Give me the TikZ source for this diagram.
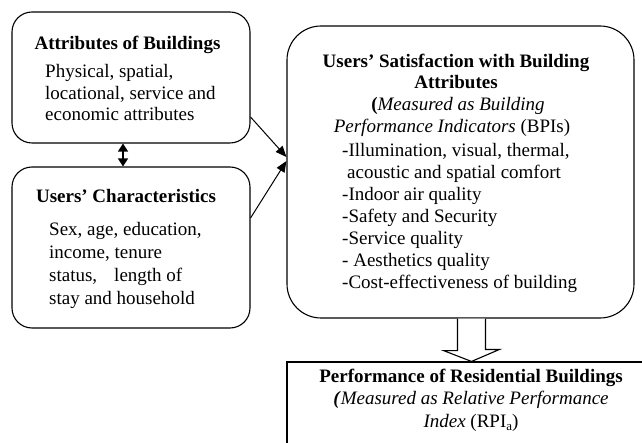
\documentclass[tikz,border=0pt]{standalone}
\usepackage{fontspec}
\setmainfont{Liberation Serif}
\usetikzlibrary{arrows.meta,calc}
\begin{document}
\begin{tikzpicture}[x=1pt,y=-1pt,
  box/.style={draw, line width=1.1pt, inner sep=0pt},
  rbox/.style={box, rounded corners=20pt},
  bigbox/.style={box, rounded corners=34pt},
  txt/.style={inner sep=0pt, font=\fontsize{19}{22}\selectfont},
  conn/.style={line width=1pt, -{Triangle[length=11pt,width=9pt]}},
  dconn/.style={line width=1.2pt, {Triangle[length=8pt,width=10pt]}-{Triangle[length=8pt,width=10pt]}},
  blockarrow/.style={draw, line width=1.1pt, line join=miter, fill=white}]
\useasboundingbox (0,0) rectangle (642,443);
\clip (0,0) rectangle (642,443);

% boxes
\node[rbox, minimum width=238pt, minimum height=131pt] (attr) at (131,77.5) {};
\node[rbox, minimum width=238pt, minimum height=161pt] (users) at (131,247.5) {};
\node[bigbox, minimum width=347pt, minimum height=292pt] (sat) at (460.5,172) {};
\node[box, minimum width=369pt, minimum height=108pt] (perf) at (471.5,416) {};

% texts: attributes
\node[txt, anchor=base] (attrT) at (127.5,50) {\textbf{Attributes of Buildings}};
\foreach \yy/\t [count=\i] in {78/{Physical, spatial,}, 100/{locational, service and}, 121/{economic attributes}}
  \node[txt, anchor=base west] (attrB\i) at (45,\yy) {\t};

% texts: users
\node[txt, anchor=base] (usersT) at (126,203) {\textbf{Users’ Characteristics}};
\foreach \yy/\t [count=\i] in {236/{Sex, age, education,}, 259/{income, tenure}, 282/{status,\hspace*{17pt}length of}, 305/{stay and household}}
  \node[txt, anchor=base west] (usersB\i) at (49,\yy) {\t};

% texts: satisfaction
\node[txt, anchor=base] (satT1) at (456,68) {\textbf{Users’ Satisfaction with Building}};
\node[txt, anchor=base] (satT2) at (456,89) {\textbf{Attributes}};
\node[txt, anchor=base] (satT3) at (458,111) {\textbf{(}\textit{Measured as Building}};
\node[txt, anchor=base] (satT4) at (452,133) {\textit{Performance Indicators} (BPIs)};
\foreach \yy/\xx/\t [count=\i] in {157/342/{-Illumination, visual, thermal,}, 179/347/{acoustic and spatial comfort}, 201/342/{-Indoor air quality}, 223/342/{-Safety and Security}, 245/342/{-Service quality}, 267/342/{- Aesthetics quality}, 289/342/{-Cost-effectiveness of building}}
  \node[txt, anchor=base west] (satL\i) at (\xx,\yy) {\t};

% texts: performance
\node[txt, anchor=base] (perfT1) at (471,382) {\textbf{Performance of Residential Buildings}};
\node[txt, anchor=base] (perfT2) at (471,404) {\textbf{\textit{(}}\textit{Measured as Relative Performance}};
\node[txt, anchor=base] (perfT3) at (471,427) {\textit{Index} (RPI\raisebox{-3pt}{\fontsize{13}{13}\selectfont a})};

% connectors
\draw[conn] ([yshift=-39.5pt]attr.east) -- ([yshift=15pt]sat.west);
\draw[conn] ([yshift=29.5pt]users.east) -- ([yshift=11pt]sat.west);
\draw[dconn] ([xshift=-8pt]attr.south) -- ([xshift=-8pt]users.north);

% hollow block arrow
\coordinate (tip) at (perf.north);
\draw[blockarrow] ($(sat.south -| tip)+(-14,0)$) -- ++(0,32) -- ++(-14,0) -- (tip)
  -- ($(tip)+(28,-12)$) -- ++(-14,0) -- ($(sat.south -| tip)+(14,0)$);
\end{tikzpicture}
\end{document}
